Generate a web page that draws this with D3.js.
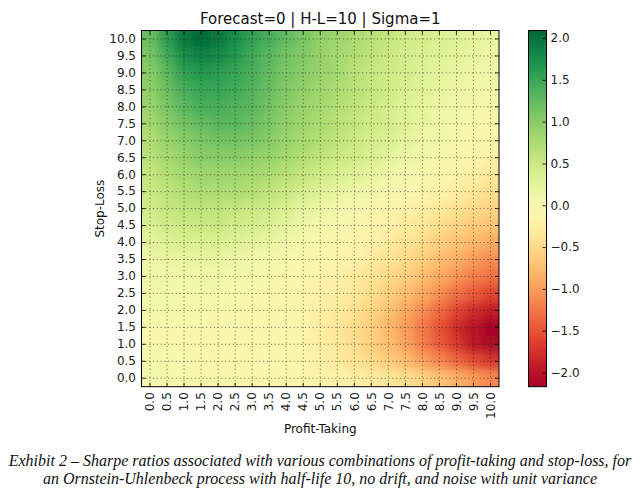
<!DOCTYPE html>
<html>
<head>
<meta charset="utf-8">
<script src="https://cdn.jsdelivr.net/npm/d3@7"></script>
<style>
  body { margin: 0; background: #fff; }
  svg { display: block; }
</style>
</head>
<body>
<svg id="chart" width="644" height="495"></svg>
<script>
// columns: profit-taking levels, rows: stop-loss levels (top row first)
const profitTaking = ["0.0", "0.5", "1.0", "1.5", "2.0", "2.5", "3.0", "3.5", "4.0", "4.5", "5.0",
                      "5.5", "6.0", "6.5", "7.0", "7.5", "8.0", "8.5", "9.0", "9.5", "10.0"];
const stopLoss = ["10.0", "9.5", "9.0", "8.5", "8.0", "7.5", "7.0", "6.5", "6.0", "5.5", "5.0",
                  "4.5", "4.0", "3.5", "3.0", "2.5", "2.0", "1.5", "1.0", "0.5", "0.0"];

// Sharpe ratio, one row per stop-loss level (same order as stopLoss)
const sharpe = [
  [1.2, 1.6, 1.95, 2.05, 1.95, 1.75, 1.55, 1.4, 1.25, 1.1, 0.95, 0.85, 0.75, 0.65, 0.55, 0.45, 0.4, 0.35, 0.3, 0.25, 0.2],
  [1.1, 1.45, 1.75, 1.85, 1.8, 1.65, 1.45, 1.3, 1.15, 1.05, 0.9, 0.8, 0.7, 0.6, 0.5, 0.4, 0.35, 0.3, 0.25, 0.2, 0.15],
  [1.0, 1.3, 1.55, 1.65, 1.6, 1.5, 1.4, 1.25, 1.1, 1.0, 0.9, 0.8, 0.65, 0.55, 0.45, 0.4, 0.3, 0.25, 0.2, 0.15, 0.1],
  [0.95, 1.2, 1.4, 1.5, 1.5, 1.45, 1.35, 1.2, 1.05, 0.95, 0.85, 0.75, 0.65, 0.55, 0.45, 0.35, 0.3, 0.2, 0.15, 0.1, 0.05],
  [0.9, 1.1, 1.3, 1.4, 1.4, 1.35, 1.3, 1.15, 1.0, 0.9, 0.8, 0.7, 0.6, 0.5, 0.4, 0.3, 0.25, 0.15, 0.1, 0.05, 0.0],
  [0.8, 1.0, 1.15, 1.25, 1.3, 1.3, 1.2, 1.1, 0.95, 0.85, 0.75, 0.65, 0.55, 0.45, 0.4, 0.3, 0.2, 0.1, 0.05, 0.0, -0.05],
  [0.7, 0.9, 1.0, 1.1, 1.15, 1.15, 1.1, 1.0, 0.9, 0.8, 0.7, 0.6, 0.5, 0.4, 0.35, 0.25, 0.15, 0.1, 0.0, -0.05, -0.1],
  [0.65, 0.8, 0.9, 1.0, 1.0, 1.0, 0.95, 0.9, 0.8, 0.7, 0.6, 0.5, 0.45, 0.35, 0.25, 0.15, 0.1, 0.0, -0.05, -0.1, -0.2],
  [0.55, 0.7, 0.8, 0.85, 0.85, 0.85, 0.8, 0.75, 0.65, 0.55, 0.45, 0.35, 0.3, 0.2, 0.1, 0.05, 0.0, -0.05, -0.15, -0.25, -0.35],
  [0.5, 0.6, 0.7, 0.75, 0.75, 0.75, 0.7, 0.6, 0.5, 0.4, 0.3, 0.2, 0.15, 0.1, 0.0, -0.05, -0.1, -0.2, -0.25, -0.35, -0.45],
  [0.45, 0.55, 0.6, 0.6, 0.6, 0.55, 0.5, 0.45, 0.35, 0.25, 0.15, 0.05, 0.0, -0.1, -0.15, -0.2, -0.25, -0.3, -0.4, -0.5, -0.55],
  [0.35, 0.45, 0.5, 0.5, 0.5, 0.45, 0.4, 0.35, 0.25, 0.15, 0.05, 0.0, -0.1, -0.15, -0.2, -0.3, -0.35, -0.45, -0.55, -0.65, -0.7],
  [0.25, 0.3, 0.35, 0.35, 0.35, 0.3, 0.25, 0.2, 0.1, 0.05, -0.05, -0.1, -0.15, -0.2, -0.3, -0.4, -0.5, -0.6, -0.7, -0.8, -0.9],
  [0.15, 0.2, 0.2, 0.2, 0.2, 0.15, 0.1, 0.05, 0.0, -0.05, -0.1, -0.15, -0.2, -0.3, -0.4, -0.5, -0.6, -0.75, -0.85, -1.0, -1.1],
  [0.1, 0.1, 0.1, 0.1, 0.1, 0.05, 0.05, 0.0, -0.05, -0.1, -0.15, -0.2, -0.3, -0.4, -0.5, -0.6, -0.75, -0.9, -1.05, -1.2, -1.3],
  [0.05, 0.05, 0.05, 0.05, 0.05, 0.0, 0.0, -0.05, -0.1, -0.15, -0.2, -0.25, -0.35, -0.45, -0.6, -0.75, -0.9, -1.1, -1.3, -1.45, -1.6],
  [0.05, 0.05, 0.05, 0.0, 0.0, 0.0, -0.05, -0.05, -0.1, -0.15, -0.25, -0.3, -0.4, -0.55, -0.7, -0.9, -1.1, -1.35, -1.6, -1.8, -1.9],
  [0.0, 0.0, 0.0, 0.0, 0.0, 0.0, -0.05, -0.05, -0.1, -0.15, -0.25, -0.35, -0.45, -0.6, -0.8, -1.0, -1.25, -1.5, -1.8, -2.0, -2.15],
  [0.0, 0.0, 0.0, 0.0, 0.0, 0.0, -0.05, -0.05, -0.1, -0.15, -0.25, -0.35, -0.45, -0.6, -0.75, -0.95, -1.2, -1.45, -1.7, -1.95, -2.1],
  [0.05, 0.05, 0.0, 0.0, 0.0, 0.0, -0.05, -0.05, -0.1, -0.15, -0.2, -0.3, -0.4, -0.5, -0.6, -0.75, -0.95, -1.15, -1.35, -1.55, -1.7],
  [0.05, 0.05, 0.0, 0.0, 0.0, 0.0, -0.05, -0.05, -0.1, -0.1, -0.15, -0.2, -0.25, -0.3, -0.35, -0.45, -0.55, -0.7, -0.85, -1.0, -1.15]
];

const colorTicks = [2.0, 1.5, 1.0, 0.5, 0.0, -0.5, -1.0, -1.5, -2.0];
const colorMin = -2.17, colorMax = 2.09;

const title = "Forecast=0 | H-L=10 | Sigma=1";
const caption = [
  "Exhibit 2 \u2013 Sharpe ratios associated with various combinations of profit-taking and stop-loss, for",
  "an Ornstein-Uhlenbeck process with half-life 10, no drift, and noise with unit variance"
];

const svg = d3.select("#chart");
const font = "'DejaVu Sans', sans-serif";

const plot = { left: 141.5, right: 499, top: 30.5, bottom: 386.7 };
const x = d3.scaleBand().domain(profitTaking).range([plot.left, plot.right]);
const y = d3.scaleBand().domain(stopLoss).range([plot.top, plot.bottom]);
const color = d3.scaleSequential(d3.interpolateRdYlGn).domain([colorMin, colorMax]);

// heatmap cells, softened with a blur like imshow's interpolation
const defs = svg.append("defs");
defs.append("clipPath").attr("id", "plot-clip")
  .append("rect")
  .attr("x", plot.left).attr("y", plot.top)
  .attr("width", plot.right - plot.left).attr("height", plot.bottom - plot.top);
defs.append("filter").attr("id", "soft")
  .attr("x", "-10%").attr("y", "-10%").attr("width", "120%").attr("height", "120%")
  .append("feGaussianBlur").attr("stdDeviation", 5);

const cells = [];
sharpe.forEach((row, i) => {
  row.forEach((v, j) => cells.push({ sl: stopLoss[i], pt: profitTaking[j], i, j, v }));
});

const pad = 20;
svg.append("g").attr("clip-path", "url(#plot-clip)")
  .append("g").attr("filter", "url(#soft)")
  .selectAll("rect")
  .data(cells)
  .join("rect")
  .attr("x", d => x(d.pt) - (d.j === 0 ? pad : 0))
  .attr("y", d => y(d.sl) - (d.i === 0 ? pad : 0))
  .attr("width", d => x.bandwidth() + 0.6 + (d.j === 0 || d.j === profitTaking.length - 1 ? pad : 0))
  .attr("height", d => y.bandwidth() + 0.6 + (d.i === 0 || d.i === stopLoss.length - 1 ? pad : 0))
  .attr("fill", d => color(d.v));

// dotted grid
const grid = svg.append("g")
  .attr("stroke", "#2a2a1a")
  .attr("stroke-width", 0.7)
  .attr("stroke-dasharray", "1.2,2.6")
  .attr("opacity", 0.85);
grid.selectAll(".gx").data(profitTaking).join("line")
  .attr("x1", d => x(d) + x.bandwidth() / 2).attr("x2", d => x(d) + x.bandwidth() / 2)
  .attr("y1", plot.top).attr("y2", plot.bottom);
grid.selectAll(".gy").data(stopLoss).join("line")
  .attr("y1", d => y(d) + y.bandwidth() / 2).attr("y2", d => y(d) + y.bandwidth() / 2)
  .attr("x1", plot.left).attr("x2", plot.right);

// axes with inward ticks on all four sides
function styleAxis(g) {
  g.select(".domain").remove();
  g.selectAll("line").attr("stroke", "#000").attr("stroke-width", 0.8);
  g.selectAll("text").attr("font-family", font).attr("font-size", 12).attr("fill", "#222");
}

svg.append("g")
  .attr("transform", `translate(${plot.left},0)`)
  .call(d3.axisLeft(y).tickSize(-4).tickPadding(5.5))
  .call(styleAxis);

svg.append("g")
  .attr("transform", `translate(${plot.right},0)`)
  .call(d3.axisRight(y).tickSize(-4).tickFormat(""))
  .call(styleAxis);

svg.append("g")
  .attr("transform", `translate(0,${plot.top})`)
  .call(d3.axisTop(x).tickSize(-4).tickFormat(""))
  .call(styleAxis);

svg.append("g")
  .attr("transform", `translate(0,${plot.bottom})`)
  .call(d3.axisBottom(x).tickSize(-4))
  .call(styleAxis)
  .call(g => g.selectAll("text")
    .attr("transform", "rotate(-90)")
    .attr("x", -5.5)
    .attr("y", 0)
    .attr("dy", "0.35em")
    .attr("text-anchor", "end"));

svg.append("rect")
  .attr("x", plot.left).attr("y", plot.top)
  .attr("width", plot.right - plot.left).attr("height", plot.bottom - plot.top)
  .attr("fill", "none").attr("stroke", "#000").attr("stroke-width", 1);

// labels
svg.append("text")
  .attr("x", (plot.left + plot.right) / 2).attr("y", 24)
  .attr("text-anchor", "middle")
  .attr("font-family", font).attr("font-size", 15).attr("fill", "#111")
  .text(title);

svg.append("text")
  .attr("x", (plot.left + plot.right) / 2).attr("y", 433)
  .attr("text-anchor", "middle")
  .attr("font-family", font).attr("font-size", 12).attr("fill", "#111")
  .text("Profit-Taking");

svg.append("text")
  .attr("transform", `translate(104,${(plot.top + plot.bottom) / 2}) rotate(-90)`)
  .attr("text-anchor", "middle")
  .attr("font-family", font).attr("font-size", 12).attr("fill", "#111")
  .text("Stop-Loss");

// colorbar
const cb = { left: 528.5, width: 18, top: 30.5, bottom: 386.7 };
const cy = d3.scaleLinear().domain([colorMin, colorMax]).range([cb.bottom, cb.top]);

const grad = defs.append("linearGradient").attr("id", "cbar")
  .attr("x1", 0).attr("y1", 1).attr("x2", 0).attr("y2", 0);
grad.selectAll("stop")
  .data(d3.range(0, 1.0001, 0.02))
  .join("stop")
  .attr("offset", d => d)
  .attr("stop-color", d => d3.interpolateRdYlGn(d));

svg.append("rect")
  .attr("x", cb.left).attr("y", cb.top)
  .attr("width", cb.width).attr("height", cb.bottom - cb.top)
  .attr("fill", "url(#cbar)")
  .attr("stroke", "#000").attr("stroke-width", 1);

svg.append("g")
  .attr("transform", `translate(${cb.left + cb.width},0)`)
  .call(d3.axisRight(cy).tickValues(colorTicks).tickSize(-4).tickPadding(4).tickFormat(d3.format(".1f")))
  .call(styleAxis);

// caption under the figure
svg.append("g")
  .selectAll("text")
  .data(caption)
  .join("text")
  .attr("x", 320)
  .attr("y", (d, i) => 466 + i * 18)
  .attr("text-anchor", "middle")
  .attr("font-family", "'Liberation Serif', 'Times New Roman', serif")
  .attr("font-style", "italic")
  .attr("font-size", 16)
  .attr("fill", "#111")
  .text(d => d);
</script>
</body>
</html>
